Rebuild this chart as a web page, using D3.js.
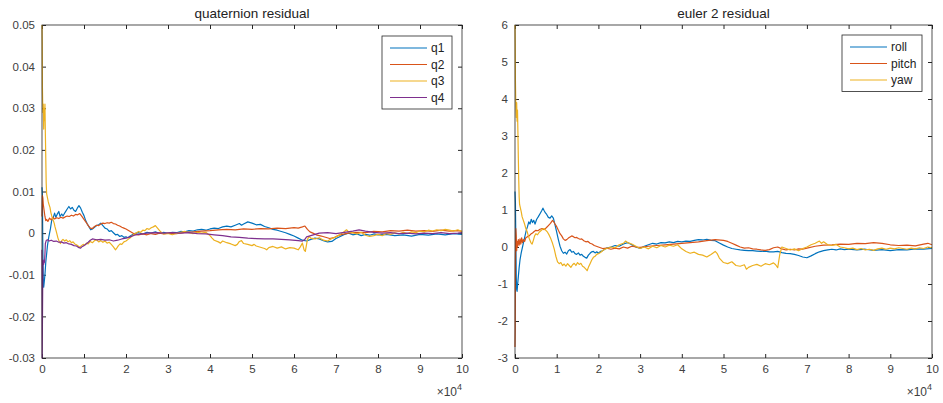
<!DOCTYPE html>
<html>
<head>
<meta charset="utf-8">
<script src="https://cdn.jsdelivr.net/npm/d3@7"></script>
<style>
  body { margin: 0; background: #fff; }
  svg { display: block; font-family: "Liberation Sans", Arial, sans-serif; }
  .tick text { fill: #404040; font-size: 11.5px; }
</style>
</head>
<body>
<div id="chart"></div>
<script>
// x values are in units of 1e4 samples (axis shows x10^4)
const quatNames = ['q1', 'q2', 'q3', 'q4'];
const eulerNames = ['roll', 'pitch', 'yaw'];
const xTicks = [0, 1, 2, 3, 4, 5, 6, 7, 8, 9, 10];
const quatTicks = [-0.03, -0.02, -0.01, 0, 0.01, 0.02, 0.03, 0.04, 0.05];
const eulerTicks = [-3, -2, -1, 0, 1, 2, 3, 4, 5, 6];

const q1 = [[0,0.011],[0.01,0.009],[0.02,-0.004],[0.03,-0.011],[0.04,-0.013],[0.05,-0.012],[0.07,-0.010],[0.09,-0.007],[0.11,-0.005],[0.13,-0.003],[0.16,-0.001],[0.2,0.001],[0.23,0.003],[0.26,0.0035],[0.3,0.0048],[0.33,0.0038],[0.36,0.0045],[0.4,0.0052],[0.43,0.0040],[0.47,0.0046],[0.5,0.0041],[0.55,0.0050],[0.6,0.0058],[0.64,0.0064],[0.68,0.0058],[0.72,0.0062],[0.76,0.0055],[0.8,0.0052],[0.84,0.0060],[0.88,0.0066],[0.92,0.0060],[0.96,0.0050],[1.0,0.0042],[1.04,0.0030],[1.08,0.0022],[1.12,0.0015],[1.16,0.0008],[1.2,0.0010],[1.25,0.0014],[1.3,0.0018],[1.35,0.0020],[1.4,0.0024],[1.45,0.0018],[1.5,0.0012],[1.55,0.0010],[1.6,0.0004],[1.65,0.0006],[1.7,0.0001],[1.75,-0.0004],[1.8,-0.0003],[1.85,-0.0008],[1.9,-0.0006],[1.95,-0.0010],[2.0,-0.0009],[2.05,-0.0011],[2.1,-0.0007],[2.15,-0.0004],[2.2,-0.0001],[2.3,0.0001],[2.4,-0.0002],[2.5,0.0002],[2.6,0.0000],[2.7,0.0003],[2.8,-0.0001],[2.9,0.0002],[3.0,-0.0001],[3.1,0.0002],[3.2,0.0001],[3.3,0.0004],[3.4,0.0003],[3.5,0.0006],[3.6,0.0005],[3.7,0.0008],[3.8,0.0009],[3.9,0.0007],[4.0,0.0010],[4.1,0.0012],[4.2,0.0011],[4.3,0.0015],[4.4,0.0017],[4.5,0.0015],[4.6,0.0019],[4.7,0.0023],[4.75,0.0019],[4.8,0.0022],[4.9,0.0027],[5.0,0.0024],[5.1,0.0020],[5.2,0.0021],[5.3,0.0016],[5.4,0.0013],[5.5,0.0009],[5.6,0.0007],[5.7,0.0004],[5.8,0.0001],[5.9,-0.0003],[6.0,-0.0007],[6.1,-0.0012],[6.2,-0.0017],[6.3,-0.0019],[6.4,-0.0015],[6.5,-0.0012],[6.6,-0.0014],[6.7,-0.0018],[6.8,-0.0021],[6.9,-0.0020],[7.0,-0.0013],[7.1,-0.0008],[7.2,-0.0003],[7.3,0.0000],[7.4,-0.0004],[7.5,-0.0002],[7.6,-0.0006],[7.7,-0.0003],[7.8,-0.0005],[7.9,-0.0002],[8.0,-0.0004],[8.2,-0.0003],[8.4,-0.0006],[8.6,-0.0004],[8.8,-0.0007],[9.0,-0.0003],[9.2,-0.0005],[9.4,-0.0002],[9.6,-0.0004],[9.8,-0.0001],[10.0,-0.0003]];

const q2 = [[0,0.004],[0.01,0.009],[0.02,0.0085],[0.03,0.007],[0.05,0.0055],[0.07,0.004],[0.09,0.0030],[0.11,0.0033],[0.14,0.0028],[0.18,0.0036],[0.22,0.0032],[0.26,0.0038],[0.3,0.0034],[0.35,0.0037],[0.4,0.0035],[0.45,0.0038],[0.5,0.0036],[0.55,0.0039],[0.6,0.0041],[0.65,0.0040],[0.7,0.0043],[0.75,0.0041],[0.8,0.0045],[0.85,0.0044],[0.9,0.0047],[0.95,0.0040],[1.0,0.0033],[1.05,0.0026],[1.1,0.0018],[1.15,0.0012],[1.2,0.0011],[1.25,0.0016],[1.3,0.0019],[1.35,0.0018],[1.4,0.0022],[1.45,0.0024],[1.5,0.0023],[1.55,0.0025],[1.6,0.0024],[1.65,0.0026],[1.7,0.0023],[1.75,0.0022],[1.8,0.0019],[1.85,0.0017],[1.9,0.0014],[1.95,0.0012],[2.0,0.0010],[2.05,0.0007],[2.1,0.0004],[2.15,0.0001],[2.2,-0.0002],[2.3,-0.0004],[2.4,-0.0002],[2.5,-0.0004],[2.6,-0.0001],[2.7,-0.0003],[2.8,0.0000],[2.9,-0.0002],[3.0,0.0000],[3.2,-0.0001],[3.4,0.0002],[3.6,0.0003],[3.8,0.0005],[4.0,0.0006],[4.2,0.0008],[4.4,0.0009],[4.6,0.0008],[4.8,0.0010],[5.0,0.0009],[5.2,0.0011],[5.4,0.0010],[5.6,0.0012],[5.8,0.0011],[6.0,0.0013],[6.1,0.0012],[6.2,0.0015],[6.26,0.0017],[6.32,0.0009],[6.38,0.0003],[6.45,0.0000],[6.55,-0.0005],[6.65,-0.0007],[6.75,-0.0010],[6.85,-0.0013],[6.95,-0.0011],[7.05,-0.0006],[7.15,-0.0003],[7.3,0.0000],[7.5,0.0002],[7.7,0.0001],[7.9,0.0004],[8.1,0.0003],[8.3,0.0006],[8.5,0.0005],[8.7,0.0007],[8.9,0.0005],[9.1,0.0006],[9.3,0.0004],[9.5,0.0007],[9.7,0.0005],[9.9,0.0006],[10.0,0.0004]];

const q3 = [[0,0.05],[0.005,0.046],[0.01,0.035],[0.02,0.029],[0.03,0.031],[0.04,0.025],[0.05,0.030],[0.06,0.027],[0.07,0.031],[0.08,0.024],[0.09,0.018],[0.1,0.012],[0.11,0.0095],[0.13,0.0085],[0.15,0.0075],[0.17,0.0068],[0.19,0.0062],[0.21,0.0050],[0.23,0.0042],[0.25,0.0035],[0.27,0.0030],[0.29,0.0024],[0.31,0.0015],[0.33,0.0008],[0.35,0.0000],[0.38,-0.0012],[0.41,-0.0020],[0.44,-0.0025],[0.47,-0.0018],[0.5,-0.0015],[0.54,-0.0019],[0.58,-0.0016],[0.62,-0.0021],[0.66,-0.0018],[0.7,-0.0023],[0.74,-0.0021],[0.78,-0.0026],[0.82,-0.0028],[0.86,-0.0031],[0.9,-0.0034],[0.94,-0.0030],[0.98,-0.0027],[1.02,-0.0029],[1.06,-0.0024],[1.1,-0.0026],[1.15,-0.0020],[1.2,-0.0023],[1.25,-0.0018],[1.3,-0.0016],[1.35,-0.0021],[1.4,-0.0018],[1.45,-0.0022],[1.5,-0.0019],[1.55,-0.0024],[1.6,-0.0022],[1.65,-0.0027],[1.7,-0.0033],[1.75,-0.0040],[1.78,-0.0036],[1.82,-0.0030],[1.86,-0.0026],[1.9,-0.0027],[1.95,-0.0021],[2.0,-0.0019],[2.05,-0.0015],[2.1,-0.0011],[2.15,-0.0006],[2.2,-0.0002],[2.25,0.0001],[2.3,0.0004],[2.35,0.0002],[2.4,0.0007],[2.45,0.0006],[2.5,0.0011],[2.55,0.0009],[2.6,0.0013],[2.65,0.0015],[2.7,0.0018],[2.75,0.0012],[2.8,0.0006],[2.85,0.0001],[2.9,-0.0002],[3.0,-0.0001],[3.1,-0.0004],[3.2,-0.0001],[3.3,0.0002],[3.4,0.0004],[3.5,0.0001],[3.6,-0.0001],[3.7,0.0002],[3.8,0.0000],[3.9,0.0002],[4.0,-0.0006],[4.05,-0.0012],[4.1,-0.0017],[4.2,-0.0021],[4.25,-0.0024],[4.3,-0.0019],[4.4,-0.0023],[4.5,-0.0026],[4.6,-0.0030],[4.65,-0.0027],[4.7,-0.0020],[4.75,-0.0018],[4.8,-0.0025],[4.9,-0.0027],[5.0,-0.0030],[5.05,-0.0027],[5.1,-0.0031],[5.2,-0.0034],[5.3,-0.0037],[5.35,-0.0040],[5.4,-0.0035],[5.5,-0.0032],[5.6,-0.0036],[5.7,-0.0033],[5.8,-0.0038],[5.9,-0.0035],[6.0,-0.0036],[6.1,-0.0040],[6.15,-0.0033],[6.2,-0.0024],[6.24,-0.0040],[6.27,-0.0044],[6.32,-0.0015],[6.36,-0.0008],[6.4,-0.0012],[6.5,-0.0014],[6.6,-0.0011],[6.7,-0.0017],[6.8,-0.0019],[6.9,-0.0013],[7.0,-0.0009],[7.1,-0.0003],[7.2,0.0004],[7.25,0.0008],[7.3,0.0003],[7.4,0.0001],[7.5,-0.0002],[7.6,0.0002],[7.7,-0.0005],[7.8,-0.0008],[7.9,-0.0006],[8.0,-0.0003],[8.1,-0.0006],[8.2,-0.0001],[8.3,-0.0003],[8.4,0.0001],[8.5,-0.0002],[8.6,0.0002],[8.7,-0.0001],[8.8,0.0003],[8.9,0.0001],[9.0,0.0005],[9.1,0.0003],[9.2,0.0007],[9.3,0.0005],[9.4,0.0008],[9.5,0.0006],[9.6,0.0009],[9.7,0.0007],[9.8,0.0005],[9.9,0.0008],[10.0,0.0004]];

const q4 = [[0,-0.004],[0.005,-0.030],[0.01,-0.022],[0.02,-0.008],[0.03,-0.0065],[0.04,-0.0075],[0.05,-0.0068],[0.06,-0.0070],[0.07,-0.0050],[0.08,-0.0025],[0.1,-0.0018],[0.13,-0.0016],[0.17,-0.0019],[0.22,-0.0017],[0.28,-0.0020],[0.34,-0.0019],[0.4,-0.0022],[0.46,-0.0021],[0.52,-0.0024],[0.58,-0.0023],[0.64,-0.0026],[0.7,-0.0027],[0.76,-0.0030],[0.82,-0.0031],[0.88,-0.0035],[0.92,-0.0036],[0.96,-0.0032],[1.0,-0.0030],[1.05,-0.0026],[1.1,-0.0022],[1.15,-0.0017],[1.2,-0.0014],[1.3,-0.0016],[1.4,-0.0015],[1.5,-0.0017],[1.6,-0.0016],[1.7,-0.0019],[1.8,-0.0017],[1.9,-0.0014],[2.0,-0.0012],[2.1,-0.0009],[2.2,-0.0005],[2.3,-0.0003],[2.4,-0.0002],[2.5,0.0000],[2.7,0.0001],[2.9,0.0000],[3.1,0.0001],[3.3,0.0000],[3.5,0.0001],[3.7,-0.0001],[3.9,-0.0002],[4.1,-0.0004],[4.3,-0.0006],[4.5,-0.0009],[4.7,-0.0010],[4.9,-0.0012],[5.1,-0.0013],[5.3,-0.0014],[5.5,-0.0014],[5.7,-0.0015],[5.9,-0.0016],[6.1,-0.0018],[6.2,-0.0019],[6.25,-0.0016],[6.3,-0.0009],[6.4,-0.0006],[6.5,-0.0003],[6.6,0.0000],[6.8,0.0001],[7.0,-0.0001],[7.2,0.0002],[7.4,0.0005],[7.55,0.0008],[7.7,0.0005],[7.9,0.0002],[8.1,0.0000],[8.3,0.0001],[8.5,-0.0001],[8.7,0.0000],[8.9,-0.0002],[9.1,0.0000],[9.3,-0.0001],[9.5,0.0001],[9.7,-0.0001],[9.9,0.0000],[10.0,0.0001]];

const roll = [[0,1.5],[0.01,1.2],[0.02,0.2],[0.03,-0.8],[0.04,-1.15],[0.05,-1.2],[0.06,-1.05],[0.08,-0.8],[0.1,-0.55],[0.12,-0.35],[0.15,-0.15],[0.18,0.0],[0.21,0.15],[0.24,0.3],[0.27,0.45],[0.3,0.55],[0.33,0.68],[0.36,0.62],[0.39,0.75],[0.42,0.66],[0.45,0.72],[0.48,0.62],[0.52,0.75],[0.56,0.82],[0.6,0.9],[0.64,0.98],[0.67,1.05],[0.7,0.98],[0.73,0.92],[0.76,0.88],[0.8,0.8],[0.84,0.78],[0.88,0.84],[0.92,0.78],[0.96,0.6],[1.0,0.4],[1.04,0.2],[1.08,0.02],[1.12,-0.1],[1.16,-0.17],[1.2,-0.14],[1.24,-0.19],[1.28,-0.1],[1.32,-0.07],[1.36,-0.14],[1.4,-0.12],[1.44,-0.18],[1.48,-0.2],[1.52,-0.16],[1.56,-0.22],[1.6,-0.2],[1.64,-0.25],[1.68,-0.28],[1.72,-0.3],[1.76,-0.22],[1.8,-0.17],[1.84,-0.13],[1.88,-0.12],[1.92,-0.16],[1.96,-0.13],[2.0,-0.17],[2.05,-0.12],[2.1,-0.1],[2.15,-0.06],[2.2,-0.03],[2.3,0.0],[2.4,0.04],[2.5,0.02],[2.6,0.08],[2.7,0.12],[2.8,0.06],[2.9,0.0],[3.0,-0.04],[3.1,0.02],[3.2,0.06],[3.3,0.1],[3.4,0.08],[3.5,0.12],[3.6,0.11],[3.7,0.14],[3.8,0.12],[3.9,0.15],[4.0,0.14],[4.1,0.16],[4.2,0.15],[4.3,0.18],[4.4,0.2],[4.5,0.19],[4.6,0.21],[4.7,0.18],[4.8,0.17],[4.9,0.11],[5.0,0.05],[5.1,0.0],[5.2,-0.04],[5.3,-0.06],[5.4,-0.08],[5.5,-0.09],[5.6,-0.1],[5.7,-0.1],[5.8,-0.11],[5.9,-0.12],[6.0,-0.11],[6.1,-0.13],[6.2,-0.13],[6.3,-0.12],[6.4,-0.15],[6.5,-0.17],[6.6,-0.18],[6.7,-0.2],[6.8,-0.23],[6.9,-0.27],[7.0,-0.29],[7.1,-0.24],[7.2,-0.18],[7.3,-0.13],[7.4,-0.1],[7.5,-0.08],[7.6,-0.06],[7.7,-0.08],[7.8,-0.05],[7.9,-0.07],[8.0,-0.06],[8.2,-0.08],[8.4,-0.06],[8.6,-0.09],[8.8,-0.07],[9.0,-0.1],[9.2,-0.07],[9.4,-0.08],[9.6,-0.05],[9.8,-0.06],[10.0,-0.04]];

const pitch = [[0,-2.7],[0.005,-2.2],[0.01,-0.5],[0.02,0.5],[0.03,0.3],[0.04,-0.1],[0.05,0.15],[0.06,0.0],[0.08,0.2],[0.1,0.05],[0.12,0.22],[0.14,0.08],[0.16,0.25],[0.18,0.12],[0.2,0.2],[0.23,0.15],[0.26,0.25],[0.3,0.28],[0.34,0.3],[0.38,0.35],[0.42,0.38],[0.46,0.42],[0.5,0.45],[0.55,0.44],[0.6,0.48],[0.65,0.5],[0.7,0.47],[0.75,0.52],[0.8,0.58],[0.85,0.64],[0.9,0.72],[0.93,0.68],[0.96,0.62],[1.0,0.55],[1.04,0.45],[1.08,0.36],[1.12,0.3],[1.16,0.22],[1.2,0.18],[1.24,0.2],[1.28,0.24],[1.32,0.27],[1.36,0.3],[1.4,0.28],[1.44,0.25],[1.48,0.26],[1.52,0.23],[1.56,0.21],[1.6,0.22],[1.65,0.17],[1.7,0.14],[1.75,0.15],[1.8,0.1],[1.85,0.08],[1.9,0.04],[1.95,0.02],[2.0,0.0],[2.1,-0.04],[2.2,-0.03],[2.3,-0.06],[2.4,-0.03],[2.5,-0.05],[2.6,0.0],[2.7,-0.03],[2.8,0.02],[2.9,0.0],[3.0,-0.01],[3.2,0.02],[3.4,0.04],[3.6,0.06],[3.8,0.08],[4.0,0.1],[4.2,0.12],[4.4,0.14],[4.6,0.17],[4.8,0.2],[5.0,0.18],[5.1,0.15],[5.2,0.1],[5.3,0.05],[5.4,0.0],[5.5,-0.03],[5.6,-0.02],[5.7,-0.05],[5.8,-0.06],[5.9,-0.08],[6.0,-0.09],[6.1,-0.07],[6.2,-0.02],[6.3,0.0],[6.4,-0.05],[6.5,-0.08],[6.6,-0.06],[6.7,-0.08],[6.8,-0.05],[6.9,-0.06],[7.0,-0.03],[7.2,0.02],[7.4,0.05],[7.6,0.06],[7.8,0.08],[8.0,0.07],[8.2,0.1],[8.4,0.09],[8.6,0.12],[8.8,0.1],[9.0,0.06],[9.2,0.04],[9.4,0.05],[9.6,0.03],[9.8,0.08],[9.9,0.1],[10.0,0.06]];

const yaw = [[0,6.0],[0.005,5.5],[0.01,4.5],[0.02,3.8],[0.03,3.5],[0.04,3.9],[0.05,3.4],[0.06,3.7],[0.07,3.1],[0.08,2.4],[0.09,1.8],[0.1,1.35],[0.11,1.15],[0.13,1.05],[0.15,0.95],[0.17,0.82],[0.2,0.72],[0.23,0.62],[0.26,0.5],[0.29,0.42],[0.32,0.3],[0.35,0.2],[0.38,0.12],[0.41,0.08],[0.44,0.18],[0.47,0.3],[0.5,0.36],[0.54,0.33],[0.58,0.4],[0.62,0.44],[0.66,0.48],[0.7,0.5],[0.74,0.45],[0.78,0.4],[0.82,0.32],[0.86,0.22],[0.9,0.1],[0.94,-0.05],[0.98,-0.25],[1.02,-0.4],[1.06,-0.45],[1.1,-0.42],[1.14,-0.5],[1.18,-0.46],[1.22,-0.52],[1.26,-0.45],[1.3,-0.5],[1.34,-0.55],[1.38,-0.48],[1.42,-0.44],[1.46,-0.5],[1.5,-0.42],[1.54,-0.47],[1.58,-0.44],[1.62,-0.52],[1.66,-0.55],[1.7,-0.6],[1.73,-0.64],[1.76,-0.55],[1.8,-0.45],[1.84,-0.35],[1.88,-0.28],[1.92,-0.25],[1.96,-0.2],[2.0,-0.18],[2.05,-0.15],[2.1,-0.1],[2.15,-0.06],[2.2,-0.04],[2.3,0.0],[2.4,-0.02],[2.5,0.06],[2.6,0.1],[2.65,0.16],[2.7,0.12],[2.8,0.08],[2.9,0.02],[3.0,-0.04],[3.1,0.0],[3.2,-0.05],[3.3,0.02],[3.4,-0.02],[3.5,0.04],[3.6,0.0],[3.7,0.05],[3.8,0.02],[3.9,0.06],[4.0,-0.05],[4.1,-0.12],[4.2,-0.17],[4.3,-0.14],[4.4,-0.2],[4.5,-0.22],[4.6,-0.27],[4.7,-0.2],[4.8,-0.12],[4.85,-0.18],[4.9,-0.3],[5.0,-0.42],[5.1,-0.45],[5.2,-0.4],[5.3,-0.5],[5.4,-0.52],[5.5,-0.48],[5.55,-0.6],[5.6,-0.55],[5.7,-0.5],[5.8,-0.47],[5.9,-0.52],[6.0,-0.45],[6.1,-0.48],[6.2,-0.43],[6.25,-0.48],[6.3,-0.56],[6.35,-0.2],[6.4,0.0],[6.5,-0.04],[6.6,-0.08],[6.7,-0.05],[6.8,-0.1],[6.9,-0.04],[7.0,0.0],[7.1,0.06],[7.2,0.1],[7.3,0.16],[7.35,0.1],[7.4,0.14],[7.5,0.06],[7.6,0.04],[7.7,0.07],[7.8,0.0],[7.9,-0.02],[8.0,-0.05],[8.1,-0.03],[8.2,-0.07],[8.3,-0.04],[8.4,-0.08],[8.5,-0.06],[8.6,-0.09],[8.7,-0.05],[8.8,-0.03],[8.9,-0.06],[9.0,-0.03],[9.1,-0.05],[9.2,-0.02],[9.3,-0.04],[9.4,-0.06],[9.5,-0.03],[9.6,-0.05],[9.7,-0.02],[9.8,-0.04],[9.9,0.0],[10.0,-0.02]];

// matlab default line colors
const colors = ['#0072BD', '#D95319', '#EDB120', '#7E2F8E'];

const W = 943, H = 403;
const svg = d3.select('#chart').append('svg')
  .attr('width', W)
  .attr('height', H);

function fmt(d) {
  return String(Math.round(d * 100) / 100);
}

function drawPanel(p) {
  const x = d3.scaleLinear().domain([0, 10]).range([p.left, p.right]);
  const y = d3.scaleLinear().domain(p.ydomain).range([p.bottom, p.top]);
  const g = svg.append('g');

  // tick marks on all four sides, pointing inward
  g.append('g')
    .attr('transform', `translate(0,${p.bottom})`)
    .call(d3.axisBottom(x).tickValues(xTicks).tickSize(-4).tickSizeOuter(0).tickPadding(7).tickFormat(d3.format('d')));
  g.append('g')
    .attr('transform', `translate(0,${p.top})`)
    .call(d3.axisTop(x).tickValues(xTicks).tickSize(-4).tickSizeOuter(0).tickFormat(''));
  g.append('g')
    .attr('transform', `translate(${p.left},0)`)
    .call(d3.axisLeft(y).tickValues(p.yticks).tickSize(-4).tickSizeOuter(0).tickPadding(7).tickFormat(fmt));
  g.append('g')
    .attr('transform', `translate(${p.right},0)`)
    .call(d3.axisRight(y).tickValues(p.yticks).tickSize(-4).tickSizeOuter(0).tickFormat(''));
  g.selectAll('.domain').remove();
  g.selectAll('.tick line').attr('stroke', '#262626');
  g.selectAll('.tick text').attr('font-family', null).attr('font-size', null);

  const line = d3.line().x(d => x(d[0])).y(d => y(d[1]));
  p.series.forEach((s, i) => {
    g.append('path')
      .datum(s)
      .attr('fill', 'none')
      .attr('stroke', colors[i])
      .attr('stroke-width', 1.2)
      .attr('stroke-linejoin', 'round')
      .attr('d', line);
  });

  g.append('rect')
    .attr('x', p.left).attr('y', p.top)
    .attr('width', p.right - p.left).attr('height', p.bottom - p.top)
    .attr('fill', 'none').attr('stroke', '#262626').attr('stroke-width', 0.8);

  g.append('text')
    .attr('x', (p.left + p.right) / 2).attr('y', p.top - 7)
    .attr('text-anchor', 'middle')
    .attr('font-size', 13.5).attr('fill', '#222')
    .text(p.title);

  // x10^4 exponent label
  const ex = g.append('text')
    .attr('x', p.right).attr('y', p.bottom + 38)
    .attr('text-anchor', 'end')
    .attr('font-size', 12).attr('fill', '#404040');
  ex.append('tspan').text('\u00d710');
  ex.append('tspan').attr('dy', -6).attr('font-size', 9).text('4');

  // legend
  const lg = g.append('g').attr('transform', `translate(${p.legend.x},${p.legend.y})`);
  lg.append('rect')
    .attr('width', p.legend.w).attr('height', p.names.length * 16.5 + 7)
    .attr('fill', '#fff').attr('stroke', '#262626').attr('stroke-width', 0.8);
  p.names.forEach((n, i) => {
    const yy = 12 + i * 16.5;
    lg.append('line')
      .attr('x1', 8).attr('x2', 45).attr('y1', yy).attr('y2', yy)
      .attr('stroke', colors[i]).attr('stroke-width', 1.2);
    lg.append('text')
      .attr('x', 49).attr('y', yy + 4)
      .attr('font-size', 12).attr('fill', '#222')
      .text(n);
  });
}

drawPanel({
  left: 42, right: 462, top: 25, bottom: 358,
  ydomain: [-0.03, 0.05], yticks: quatTicks,
  series: [q1, q2, q3, q4], names: quatNames,
  title: 'quaternion residual',
  legend: {x: 382, y: 36, w: 70}
});

drawPanel({
  left: 515, right: 932, top: 25, bottom: 358,
  ydomain: [-3, 6], yticks: eulerTicks,
  series: [roll, pitch, yaw], names: eulerNames,
  title: 'euler 2 residual',
  legend: {x: 842, y: 35, w: 80}
});
</script>
</body>
</html>
